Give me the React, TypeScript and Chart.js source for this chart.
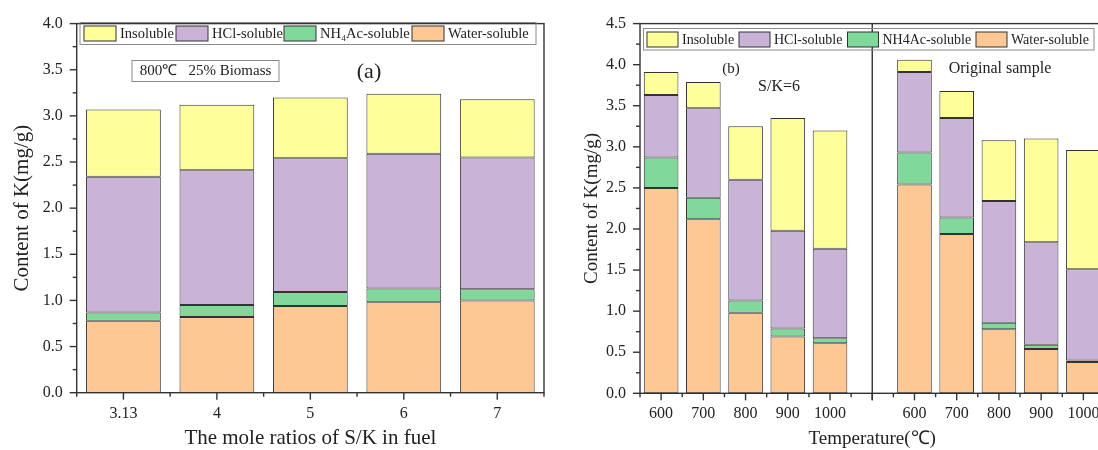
import React, { useEffect, useRef } from 'react';
import { Chart, registerables } from 'chart.js';

Chart.register(...registerables);

// ---------- data: panel (a) ----------
const leftCategories = ['3.13', '4', '5', '6', '7'];
const leftWater = [0.78, 0.82, 0.94, 0.98, 1.0];
const leftNH4Ac = [0.09, 0.13, 0.15, 0.15, 0.12];
const leftHCl = [1.47, 1.46, 1.45, 1.46, 1.43];
const leftInsoluble = [0.73, 0.71, 0.66, 0.65, 0.63];

// ---------- data: panel (b) ----------
const rightCategories = ['600', '700', '800', '900', '1000', '', '600', '700', '800', '900', '1000'];
const rightWater = [2.5, 2.12, 0.98, 0.69, 0.61, null, 2.54, 1.94, 0.78, 0.54, 0.38];
const rightNH4Ac = [0.37, 0.26, 0.15, 0.1, 0.06, null, 0.39, 0.2, 0.08, 0.05, 0.02];
const rightHCl = [0.76, 1.09, 1.47, 1.19, 1.09, null, 0.98, 1.21, 1.48, 1.25, 1.11];
const rightInsoluble = [0.28, 0.32, 0.65, 1.37, 1.44, null, 0.15, 0.33, 0.74, 1.26, 1.45];

const seriesNames = ['Water-soluble', 'NH4Ac-soluble', 'HCl-soluble', 'Insoluble'];
const leftLegendLabels = ['Insoluble', 'HCl-soluble', 'NH₄Ac-soluble', 'Water-soluble'];
const rightLegendLabels = ['Insoluble', 'HCl-soluble', 'NH4Ac-soluble', 'Water-soluble'];

const COLORS: Record<string, string> = {
  'Water-soluble': '#FEC894',
  'NH4Ac-soluble': '#80D99B',
  'HCl-soluble': '#C9B3D7',
  Insoluble: '#FEFE9B',
};
const legendColors = [COLORS['Insoluble'], COLORS['HCl-soluble'], COLORS['NH4Ac-soluble'], COLORS['Water-soluble']];

const FAMILY = '"Liberation Serif", "Times New Roman", serif';
const INK = '#222';
const AXIS = '#333';

type Note = { text: string; x: number; y: number; size: number; box?: [number, number, number, number] };
type LegendSpec = {
  box: [number, number, number, number];
  swatchX: number[];
  swatchY: number;
  swatchW: number;
  swatchH: number;
  textGap: number;
  labels: string[];
  size: number;
};

function makeDecor(legend: LegendSpec, notes: Note[], divider: number | null) {
  return {
    id: 'decor',
    afterDraw(chart: any) {
      const ctx = chart.ctx as CanvasRenderingContext2D;
      const { left, right, top, bottom } = chart.chartArea;
      const xs = chart.scales.x;
      const ys = chart.scales.y;
      const line = (x1: number, y1: number, x2: number, y2: number) => {
        ctx.beginPath();
        ctx.moveTo(x1, y1);
        ctx.lineTo(x2, y2);
        ctx.stroke();
      };
      ctx.save();
      ctx.strokeStyle = AXIS;
      ctx.lineWidth = 1.4;
      ctx.strokeRect(left, top, right - left, bottom - top);
      // y ticks (major + minor)
      for (let v = ys.min; v <= ys.max + 1e-9; v += 0.25) {
        const y = ys.getPixelForValue(v);
        const major = Math.abs(v * 2 - Math.round(v * 2)) < 1e-6;
        line(left - (major ? 7 : 4), y, left, y);
      }
      // x ticks
      const n = xs.ticks.length;
      const w = (right - left) / n;
      for (let i = 0; i < n; i++) {
        const cx = xs.getPixelForTick(i);
        line(cx, bottom, cx, bottom + 7);
      }
      for (let i = 0; i <= n; i++) {
        const bx = left + i * w;
        line(bx, bottom, bx, bottom + 4);
      }
      if (divider !== null) {
        const dx = xs.getPixelForValue(divider);
        line(dx, top, dx, bottom + 7);
      }
      // legend
      ctx.lineWidth = 1;
      ctx.strokeStyle = '#8a8a8a';
      const [bx1, by1, bx2, by2] = legend.box;
      ctx.strokeRect(bx1, by1, bx2 - bx1, by2 - by1);
      ctx.font = `${legend.size}px ${FAMILY}`;
      ctx.textBaseline = 'middle';
      ctx.textAlign = 'left';
      legend.labels.forEach((lab, i) => {
        const sx = legend.swatchX[i];
        ctx.fillStyle = legendColors[i];
        ctx.fillRect(sx, legend.swatchY, legend.swatchW, legend.swatchH);
        ctx.strokeStyle = '#333';
        ctx.strokeRect(sx, legend.swatchY, legend.swatchW, legend.swatchH);
        ctx.fillStyle = INK;
        ctx.fillText(lab, sx + legend.swatchW + legend.textGap, legend.swatchY + legend.swatchH / 2 + 0.5);
      });
      // notes
      notes.forEach((nt) => {
        if (nt.box) {
          ctx.strokeStyle = '#8a8a8a';
          ctx.lineWidth = 1;
          const [x1, y1, x2, y2] = nt.box;
          ctx.strokeRect(x1, y1, x2 - x1, y2 - y1);
        }
        ctx.font = `${nt.size}px ${FAMILY}`;
        ctx.fillStyle = INK;
        ctx.textAlign = 'center';
        ctx.textBaseline = 'middle';
        ctx.fillText(nt.text, nt.x, nt.y);
      });
      ctx.restore();
    },
  };
}

type PanelSpec = {
  categories: string[];
  series: (number | null)[][];
  yMax: number;
  xTitle: string;
  xTitleSize: number;
  yTitleSize: number;
  yTitlePad: number;
  padding: { left: number; top: number; right: number; bottom: number };
  yWidth: number;
  xHeight: number;
  barPct: number;
  legend: LegendSpec;
  notes: Note[];
  divider: number | null;
};

function Panel({ spec }: { spec: PanelSpec }) {
  const ref = useRef<HTMLCanvasElement>(null);
  useEffect(() => {
    if (!ref.current) return;
    const chart = new Chart(ref.current, {
      type: 'bar',
      data: {
        labels: spec.categories,
        datasets: seriesNames.map((name, i) => ({
          label: name,
          data: spec.series[i],
          backgroundColor: COLORS[name],
          borderColor: '#333',
          borderWidth: 1,
          borderSkipped: false,
          barPercentage: spec.barPct,
          categoryPercentage: 1,
        })),
      },
      options: {
        responsive: false,
        animation: false,
        devicePixelRatio: 1,
        layout: { padding: spec.padding },
        plugins: { legend: { display: false }, tooltip: { enabled: false } },
        scales: {
          x: {
            stacked: true,
            grid: { display: false, drawTicks: false },
            border: { display: false },
            ticks: {
              color: INK,
              font: { family: FAMILY, size: 16 },
              padding: 11,
              maxRotation: 0,
              autoSkip: false,
            },
            title: {
              display: true,
              text: spec.xTitle,
              color: INK,
              font: { family: FAMILY, size: spec.xTitleSize, lineHeight: 1 },
              padding: { top: 0, bottom: 1 },
            },
            afterFit: (s: any) => {
              s.height = spec.xHeight;
            },
          },
          y: {
            stacked: true,
            min: 0,
            max: spec.yMax,
            grid: { display: false, drawTicks: false },
            border: { display: false },
            ticks: {
              stepSize: 0.5,
              color: INK,
              font: { family: FAMILY, size: 16 },
              padding: 14,
              callback: (v: any) => Number(v).toFixed(1),
            },
            title: {
              display: true,
              text: 'Content of K(mg/g)',
              color: INK,
              font: { family: FAMILY, size: spec.yTitleSize, lineHeight: 1.2 },
              padding: { top: spec.yTitlePad, bottom: 0 },
            },
            afterFit: (s: any) => {
              s.width = spec.yWidth;
            },
          },
        },
      },
      plugins: [makeDecor(spec.legend, spec.notes, spec.divider)],
    } as any);
    return () => chart.destroy();
  }, []);
  return <canvas ref={ref} width={560} height={450} style={{ display: 'block' }} />;
}

const leftSpec: PanelSpec = {
  categories: leftCategories,
  series: [leftWater, leftNH4Ac, leftHCl, leftInsoluble],
  yMax: 4,
  xTitle: 'The mole ratios of S/K in fuel',
  xTitleSize: 21,
  yTitleSize: 21,
  yTitlePad: 10,
  padding: { left: 0, top: 18.3, right: 16, bottom: 0 },
  yWidth: 76.7,
  xHeight: 57.3,
  barPct: 0.8,
  legend: {
    box: [80, 22.5, 536, 44.5],
    swatchX: [84, 176, 284, 412],
    swatchY: 26,
    swatchW: 32,
    swatchH: 15,
    textGap: 4,
    labels: leftLegendLabels,
    size: 14.5,
  },
  notes: [
    { text: '800℃   25% Biomass', x: 205.5, y: 71, size: 15, box: [132, 60.5, 279, 81.5] },
    { text: '(a)', x: 369, y: 72, size: 22 },
  ],
  divider: null,
};

const rightSpec: PanelSpec = {
  categories: rightCategories,
  series: [rightWater, rightNH4Ac, rightHCl, rightInsoluble],
  yMax: 4.5,
  xTitle: 'Temperature(℃)',
  xTitleSize: 19,
  yTitleSize: 19,
  yTitlePad: 21,
  padding: { left: 0, top: 20, right: 15.5, bottom: 0 },
  yWidth: 80,
  xHeight: 56.7,
  barPct: 0.82,
  legend: {
    box: [83.5, 28.5, 534, 50],
    swatchX: [87, 179, 287.5, 416],
    swatchY: 32,
    swatchW: 31,
    swatchH: 15,
    textGap: 4,
    labels: rightLegendLabels,
    size: 14,
  },
  notes: [
    { text: '(b)', x: 171, y: 69, size: 15 },
    { text: 'S/K=6', x: 219, y: 87, size: 16 },
    { text: 'Original sample', x: 440, y: 69, size: 16 },
  ],
  divider: 5,
};

export default function App() {
  return (
    <div
      style={{
        position: 'absolute',
        left: 0,
        top: 0,
        width: 1098,
        height: 450,
        overflow: 'hidden',
        background: '#fff',
      }}
    >
      <div style={{ position: 'absolute', left: 0, top: 0, width: 560, height: 450 }}>
        <Panel spec={leftSpec} />
      </div>
      <div style={{ position: 'absolute', left: 560, top: 0, width: 560, height: 450 }}>
        <Panel spec={rightSpec} />
      </div>
    </div>
  );
}
